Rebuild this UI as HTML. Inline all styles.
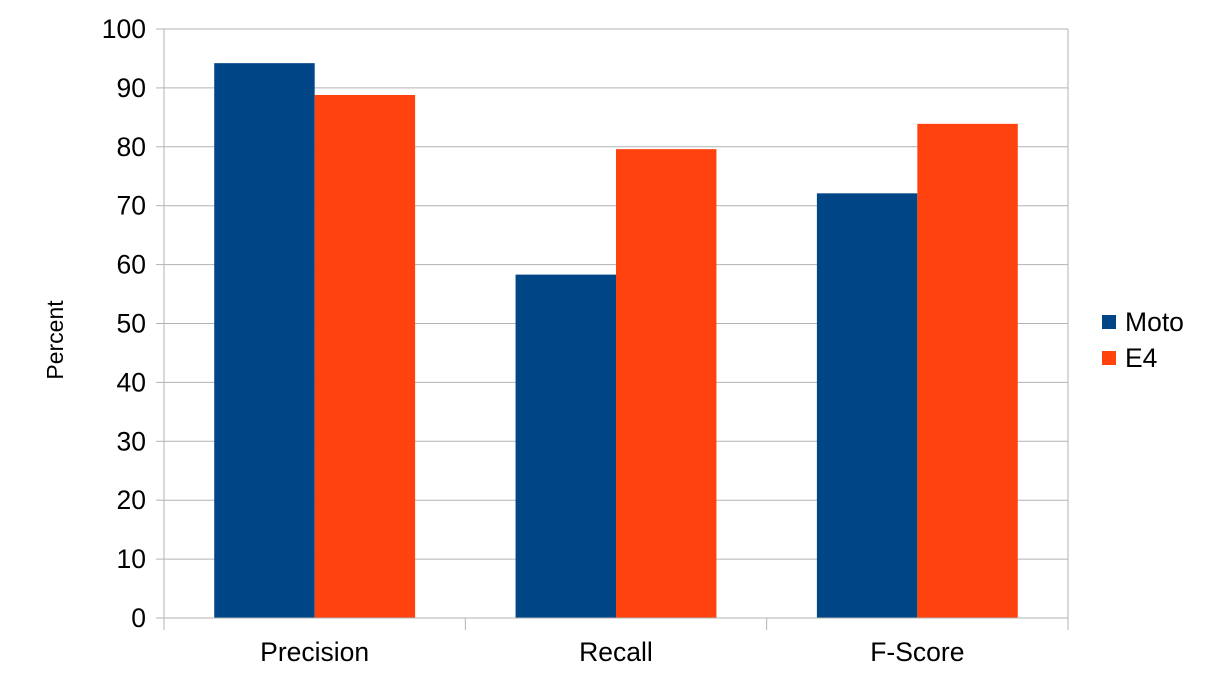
<!DOCTYPE html>
<html><head><meta charset="utf-8"><style>body{margin:0;background:#fff}svg{display:block;font-family:"Liberation Sans",sans-serif}</style></head>
<body>
<svg id="chart" width="1209" height="680" xmlns="http://www.w3.org/2000/svg"></svg>
<script>
const categories = ["Precision","Recall","F-Score"];
const seriesNames = ["Moto","E4"];
const motoValues = [94.2, 58.3, 72.1];
const e4Values = [88.8, 79.6, 83.9];
const yTicks = [0,10,20,30,40,50,60,70,80,90,100];
const colors = ["#004586","#ff420e"];

const svg = document.getElementById('chart');
const NS = "http://www.w3.org/2000/svg";
const L=164,R=1068,T=29,B=618,yMax=100;
const y = v => B - (v/yMax)*(B-T);
const catW = (R-L)/categories.length;
const x = i => L + i*catW;
function mk(tag, attrs, text){const e=document.createElementNS(NS,tag);for(const k in attrs)e.setAttribute(k,attrs[k]);if(text!==undefined)e.textContent=text;svg.appendChild(e);return e;}

yTicks.forEach(t=>{
  const g = mk('line',{x1:L,x2:R,y1:y(t),y2:y(t),stroke:'#b3b3b3','stroke-width':1});
  
  
  const tk = mk('line',{x1:L-8,x2:L,y1:y(t),y2:y(t),stroke:'#b3b3b3','stroke-width':1});
  
  
  const lb = mk('text',{x:146,y:y(t)+9,'text-anchor':'end','font-size':26.5,fill:'#000'},String(t));
  
  
});
const vax = mk('line',{x1:L,x2:L,y1:T,y2:B,stroke:'#b3b3b3'});


const rax = mk('line',{x1:R,x2:R,y1:T,y2:B,stroke:'#b3b3b3'});


for(let i=0;i<=categories.length;i++){
  const tk = mk('line',{x1:x(i),x2:x(i),y1:B,y2:B+12,stroke:'#b3b3b3'});
  
  
}
const barW = catW/3;
[motoValues,e4Values].forEach((vals,s)=>{
  vals.forEach((v,i)=>{
    const r = mk('rect',{x:x(i)+barW/2+s*barW,y:y(v),width:barW,height:B-y(v),fill:colors[s]});
    
    
  });
});
const xa = mk('line',{x1:L,x2:R,y1:B,y2:B,stroke:'#b3b3b3'});


categories.forEach((c,i)=>{
  const t = mk('text',{x:x(i)+catW/2,y:661,'text-anchor':'middle','font-size':26.5,fill:'#000'},c);
  
  
});
const yt = mk('text',{x:0,y:0,'text-anchor':'middle','font-size':23,fill:'#000',transform:'translate(63,340) rotate(-90)'},'Percent');


seriesNames.forEach((n,s)=>{
  const sq = mk('rect',{x:1102,y:315+s*36,width:14,height:14,fill:colors[s]});
  
  
  const t = mk('text',{x:1125,y:331+s*36,'font-size':26.5,fill:'#000'},n);
  
  
});
</script>
</body></html>
